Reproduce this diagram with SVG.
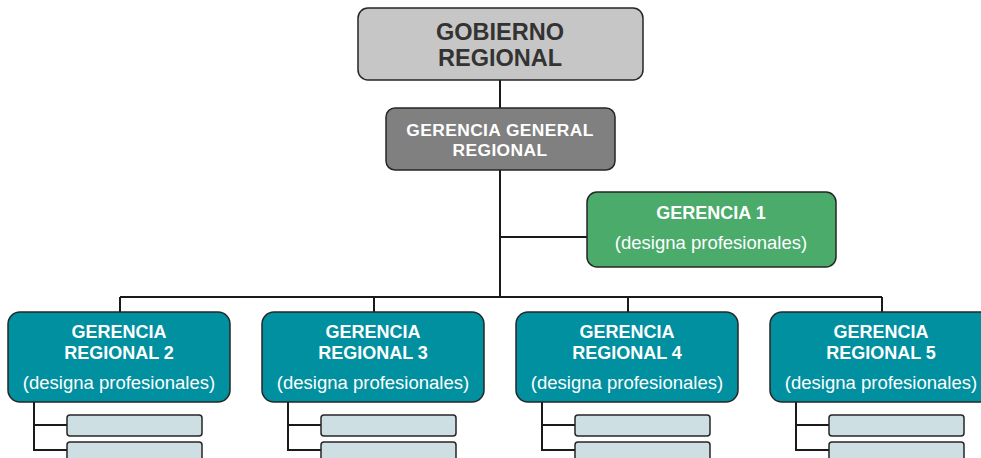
<svg xmlns="http://www.w3.org/2000/svg" width="981" height="458" viewBox="0 0 981 458">
<style>
.box{stroke:#262626;stroke-width:1.5}
.top{fill:#c6c6c6}
.gg{fill:#808080}
.g1{fill:#4aab6b}
.reg{fill:#0090a0}
.sub{fill:#cddfe2;stroke:#262626;stroke-width:1.5}
.ln{fill:none;stroke:#1a1a1a;stroke-width:2}
text{font-family:"Liberation Sans",Arial,sans-serif;text-anchor:middle}
.t1{font-size:23.5px;font-weight:bold;fill:#333333}
.tg{font-size:17.4px;font-weight:bold;fill:#ffffff;letter-spacing:0.4px}
.tb{font-size:18px;font-weight:bold;fill:#ffffff}
.tn{font-size:18.5px;fill:#ffffff}
</style>
<g id="connectors">
<path class="ln" d="M500 80V108M500 170V298M500 237H587M120 297H882M120 297V312M374 297V312M628 297V312M882 297V312"/>
<path class="ln" d="M34 402V450H67M34 425H67"/>
<path class="ln" d="M288 402V450H321M288 425H321"/>
<path class="ln" d="M542 402V450H575M542 425H575"/>
<path class="ln" d="M796 402V450H829M796 425H829"/>
</g>
<g id="gobierno">
<rect class="box top" x="358" y="8" width="285" height="72" rx="10"/>
<text class="t1" x="500" y="40">GOBIERNO</text>
<text class="t1" x="500" y="66">REGIONAL</text>
</g>
<g id="gerencia-general">
<rect class="box gg" x="386" y="108" width="229" height="62" rx="9"/>
<text class="tg" x="500" y="136">GERENCIA GENERAL</text>
<text class="tg" x="500" y="156">REGIONAL</text>
</g>
<g id="gerencia1">
<rect class="box g1" x="587" y="192" width="249" height="75" rx="10"/>
<text class="tb" x="711" y="219">GERENCIA 1</text>
<text class="tn" x="711" y="249">(designa profesionales)</text>
</g>
<g id="gr2">
<rect class="box reg" x="8" y="312" width="222" height="90" rx="12"/>
<text class="tb" x="119" y="338">GERENCIA</text>
<text class="tb" x="119" y="359">REGIONAL 2</text>
<text class="tn" x="119" y="389">(designa profesionales)</text>
</g>
<g id="gr2-sub1"><rect class="sub" x="67" y="415" width="135" height="21" rx="3"/></g>
<g id="gr2-sub2"><rect class="sub" x="67" y="442" width="135" height="24" rx="3"/></g>
<g id="gr3">
<rect class="box reg" x="262" y="312" width="222" height="90" rx="12"/>
<text class="tb" x="373" y="338">GERENCIA</text>
<text class="tb" x="373" y="359">REGIONAL 3</text>
<text class="tn" x="373" y="389">(designa profesionales)</text>
</g>
<g id="gr3-sub1"><rect class="sub" x="321" y="415" width="135" height="21" rx="3"/></g>
<g id="gr3-sub2"><rect class="sub" x="321" y="442" width="135" height="24" rx="3"/></g>
<g id="gr4">
<rect class="box reg" x="516" y="312" width="222" height="90" rx="12"/>
<text class="tb" x="627" y="338">GERENCIA</text>
<text class="tb" x="627" y="359">REGIONAL 4</text>
<text class="tn" x="627" y="389">(designa profesionales)</text>
</g>
<g id="gr4-sub1"><rect class="sub" x="575" y="415" width="135" height="21" rx="3"/></g>
<g id="gr4-sub2"><rect class="sub" x="575" y="442" width="135" height="24" rx="3"/></g>
<g id="gr5">
<rect class="box reg" x="770" y="312" width="222" height="90" rx="12"/>
<text class="tb" x="881" y="338">GERENCIA</text>
<text class="tb" x="881" y="359">REGIONAL 5</text>
<text class="tn" x="881" y="389">(designa profesionales)</text>
</g>
<g id="gr5-sub1"><rect class="sub" x="829" y="415" width="135" height="21" rx="3"/></g>
<g id="gr5-sub2"><rect class="sub" x="829" y="442" width="135" height="24" rx="3"/></g>
</svg>
